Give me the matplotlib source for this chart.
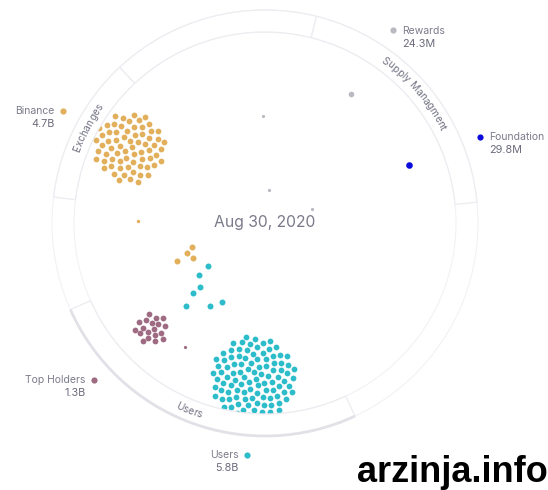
import numpy as np
import matplotlib
matplotlib.use("Agg")
import matplotlib.pyplot as plt
from matplotlib.patches import Wedge, Circle, Arc
from matplotlib.font_manager import FontProperties, findfont
from matplotlib.ft2font import FT2Font

DPI = 100
W, H = 548, 490

# ---------------- data ----------------
date_label = "Aug 30, 2020"

holder_names = ["Binance", "Rewards", "Foundation", "Top Holders", "Users"]
holder_values = ["4.7B", "24.3M", "29.8M", "1.3B", "5.8B"]
holder_colors = ["#e2b05c", "#b9b9c2", "#0b0bdc", "#9e6b82", "#2dbdca"]

group_names = ["Exchanges", "", "Supply Managment", "Users"]
group_start = [133, 76, 5.6, 204]
group_end = [173, 133, 76, 295]

cluster_holder = ["Binance", "Users", "Top Holders"]
cluster_counts = [69, 105, 19]

loose_holder = ["Binance", "Binance", "Binance", "Binance", "Binance",
                "Users", "Users", "Users", "Users", "Users", "Users", "Users",
                "Rewards", "Rewards", "Rewards", "Rewards",
                "Foundation", "Top Holders"]
loose_x = [192, 187, 193, 177, 137.5,
           208, 199, 200, 193, 186, 210, 222,
           351, 263, 269, 312,
           409, 185]
loose_y = [247, 253, 258, 261, 221,
           266, 275, 287, 293, 306, 306, 302,
           94, 116, 190, 208.5,
           165.5, 347]
loose_diam = [6.0, 6.0, 6.0, 6.0, 3.4,
              6.0, 6.0, 6.0, 6.0, 6.0, 6.0, 6.0,
              5.6, 3.2, 3.2, 3.2,
              6.6, 3.2]

# ---------------- layout ----------------
CX, CY = 265, 223
R_OUT, R_IN = 213, 191
R_MID = (R_OUT + R_IN) / 2

cluster_cx = [129, 253, 151]
cluster_cy = [147.5, 379, 329]
cluster_r = [36, 43, 16.5]
DOT_D = 5.8

label_x = [55, 402, 489, 85.5, 238.5]
label_y = [111, 30.5, 137, 380, 454.5]
label_ha = ["right", "left", "left", "right", "right"]
dot_x = [62.7, 393.3, 480, 94, 246.7]

TEXT_C = "#7c7c8c"
VAL_C = "#6c6c7c"
FONT = ["Inter", "DejaVu Sans"]

color_of = dict(zip(holder_names, holder_colors))


def s_of(d):
    return (d * 72.0 / DPI) ** 2


fig = plt.figure(figsize=(W / DPI, H / DPI), dpi=DPI)
ax = fig.add_axes([0, 0, 1, 1])
ax.set_xlim(0, W)
ax.set_ylim(H, 0)
ax.axis("off")

# faint full ring
for r in (R_OUT, R_IN):
    ax.add_patch(Circle((CX, CY), r, fill=False, ec="#f2f2f6", lw=0.8, zorder=1))

# clusters (sunflower packing)
ga = np.pi * (3 - np.sqrt(5))
for name, n, cx, cy, R in zip(cluster_holder, cluster_counts, cluster_cx, cluster_cy, cluster_r):
    i = np.arange(n)
    rr = R * np.sqrt((i + 0.5) / n)
    th = i * ga
    ax.scatter(cx + rr * np.cos(th), cy + rr * np.sin(th), s=s_of(DOT_D),
               color=color_of[name], lw=0, zorder=2)

# loose dots
for h, x, y, d in zip(loose_holder, loose_x, loose_y, loose_diam):
    ax.scatter([x], [y], s=s_of(d), color=color_of[h], lw=0, zorder=2)

# group bands
for name, a1, a2 in zip(group_names, group_start, group_end):
    ax.add_patch(Wedge((CX, CY), R_OUT, -a2, -a1, width=R_OUT - R_IN,
                       facecolor="white", edgecolor="#ececf1", lw=0.9, zorder=3))
    if name == "Users":
        ax.add_patch(Arc((CX, CY), 2 * R_OUT, 2 * R_OUT, theta1=-a2, theta2=-a1,
                         color="#e1e1e7", lw=2.0, zorder=3.5))


def advances(text, prop):
    try:
        f = FT2Font(findfont(prop))
        f.set_size(prop.get_size_in_points(), DPI)
        return [f.load_char(ord(c)).linearHoriAdvance / 65536.0 for c in text]
    except Exception:
        return [prop.get_size_in_points() * DPI / 72 * 0.58 for c in text]


def curved_text(text, theta_c, r, clockwise, fs, color):
    prop = FontProperties(family="Inter", size=fs)
    adv = advances(text, prop)
    total = sum(adv)
    pos = np.cumsum([0] + adv[:-1]) + np.array(adv) / 2 - total / 2
    off = 3.4
    rb = r - off if clockwise else r + off
    for ch, p in zip(text, pos):
        if ch == " ":
            continue
        dth = np.degrees(p / rb)
        a = theta_c - dth if clockwise else theta_c + dth
        x = CX + rb * np.cos(np.radians(a))
        y = CY - rb * np.sin(np.radians(a))
        rot = a - 90 if clockwise else a + 90
        ax.text(x, y, ch, rotation=rot, rotation_mode="anchor", ha="center",
                va="baseline", fontsize=fs, color=color, family=FONT, zorder=4)


curved_text("Exchanges", 151.8, R_MID, True, 7.3, "#727284")
curved_text("Supply Managment", 41.0, R_MID, True, 7.3, "#727284")
curved_text("Users", 247.9, R_MID, False, 7.3, "#727284")

# date
ax.text(CX - 0.5, 222, date_label, ha="center", va="center", fontsize=11.3,
        color="#7a7a8a", family=FONT, zorder=4)

# holder labels
for name, val, c, lx, ly, ha, dx in zip(holder_names, holder_values, holder_colors,
                                        label_x, label_y, label_ha, dot_x):
    ax.scatter([dx], [ly], s=s_of(6.2), color=c, lw=0, zorder=4)
    ax.text(lx, ly, name, ha=ha, va="center", fontsize=7.5, color=TEXT_C,
            family=FONT, zorder=4)
    ax.text(lx, ly + 13.3, val, ha=ha, va="center", fontsize=7.8, color=VAL_C,
            family=FONT, zorder=4)

# watermark
ax.text(357, 482, "arzinja.info", ha="left", va="baseline", fontsize=26,
        fontweight="bold", color="black", family=["Liberation Sans", "DejaVu Sans"],
        zorder=5)

fig.savefig("out.png", dpi=DPI, facecolor="white")
